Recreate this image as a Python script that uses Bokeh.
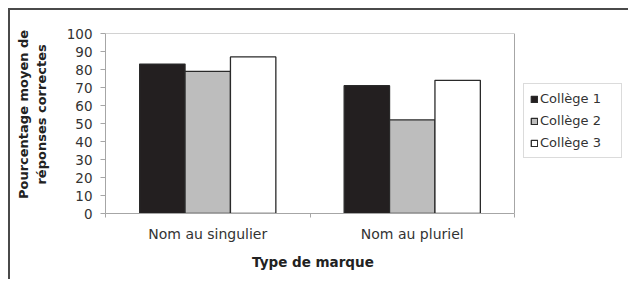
from bokeh.plotting import figure
from bokeh.models import ColumnDataSource, FixedTicker, Legend, LegendItem, Range1d, LinearAxis
from bokeh.embed import file_html
from bokeh.resources import INLINE
import numpy as np

categories = ["Nom au singulier", "Nom au pluriel"]
series_names = ["Collège 1", "Collège 2", "Collège 3"]
college1 = [83, 71]
college2 = [79, 52]
college3 = [87, 74]
y_ticks = [0, 10, 20, 30, 40, 50, 60, 70, 80, 90, 100]
y_max = 100

fills = ["#231f20", "#bdbdbd", "#ffffff"]
bar_w = 0.222
offsets = [-bar_w, 0.0, bar_w]

n = len(categories)
centers = np.arange(n) + 0.5
bounds = list(np.arange(n + 1).astype(float))

FONT = "DejaVu Sans"
NB = "\u00a0"
AXIS_GRAY = "#a6a6a6"

PLOT_W = 409          # width of the visible plot box
EXTRA_W = 114         # room to the right for the legend
FW = PLOT_W + EXTRA_W

p = figure(frame_width=FW, frame_height=180, output_backend="svg", toolbar_location=None,
           x_range=Range1d(0, n * FW / PLOT_W), y_range=Range1d(0, y_max),
           x_axis_type=None,
           min_border_left=95, min_border_top=23, min_border_bottom=66, min_border_right=0)
p.styles = {"border-top": "2px solid #4a4a4a", "border-left": "2px solid #4a4a4a",
            "margin-left": "8px", "margin-top": "8px"}
p.xgrid.grid_line_color = None
p.ygrid.grid_line_color = None
p.outline_line_color = None

# top and right sides of the plot box
p.multi_line(xs=[[0, n, n]], ys=[[y_max, y_max, 0]], line_color=AXIS_GRAY, line_width=1)

items = []
for vals, name, col, off in zip([college1, college2, college3], series_names, fills, offsets):
    src = ColumnDataSource(dict(x=centers + off, top=vals))
    r = p.vbar(x="x", top="top", width=bar_w, source=src, fill_color=col,
               line_color="#2a2a2a", line_width=1.3)
    items.append(LegendItem(label=name, renderers=[r]))

# x axis
xaxis = LinearAxis(ticker=FixedTicker(ticks=list(centers), minor_ticks=bounds), bounds=(0, n))
xaxis.major_label_overrides = {float(c): lab for c, lab in zip(centers, categories)}
xaxis.major_tick_line_color = None
xaxis.major_tick_out = 0
xaxis.major_tick_in = 0
xaxis.minor_tick_line_color = AXIS_GRAY
xaxis.minor_tick_out = 4
xaxis.minor_tick_in = 0
xaxis.axis_line_color = AXIS_GRAY
xaxis.major_label_standoff = 8
xaxis.major_label_text_font = FONT
xaxis.major_label_text_font_size = "14px"
xaxis.major_label_text_color = "#333333"
# trailing no-break spaces re-centre the title under the visible plot box
xaxis.axis_label = "Type de marque" + NB * 23
xaxis.axis_label_text_font = FONT
xaxis.axis_label_text_font_style = "bold"
xaxis.axis_label_text_font_size = "13.5px"
xaxis.axis_label_text_color = "#222222"
xaxis.axis_label_standoff = 9
p.add_layout(xaxis, "below")

# y axis
ya = p.yaxis[0]
ya.ticker = FixedTicker(ticks=y_ticks, minor_ticks=[])
ya.axis_line_color = AXIS_GRAY
ya.major_tick_line_color = AXIS_GRAY
ya.major_tick_out = 5
ya.major_tick_in = 0
ya.major_label_standoff = 8
ya.major_label_text_font = FONT
ya.major_label_text_font_size = "13.5px"
ya.major_label_text_color = "#333333"
ya.axis_label = NB * 4 + "Pourcentage moyen de\n" + NB * 4 + "réponses correctes"
ya.axis_label_text_font = FONT
ya.axis_label_text_font_style = "bold"
ya.axis_label_text_font_size = "13px"
ya.axis_label_text_color = "#222222"
ya.axis_label_text_line_height = 1.15
ya.axis_label_standoff = 15

legend = Legend(items=items, location=(PLOT_W + 9, 55), orientation="vertical")
legend.margin = 0
legend.padding = 6
legend.spacing = 5
legend.label_height = 17
legend.label_width = 75
legend.glyph_width = 8
legend.glyph_height = 8
legend.label_standoff = 2
legend.label_text_font = FONT
legend.label_text_font_size = "13px"
legend.label_text_color = "#333333"
legend.border_line_color = "#b8b8b8"
legend.border_line_width = 1
legend.background_fill_color = "white"
p.add_layout(legend)

open("out.html", "w").write(file_html(p, INLINE))
